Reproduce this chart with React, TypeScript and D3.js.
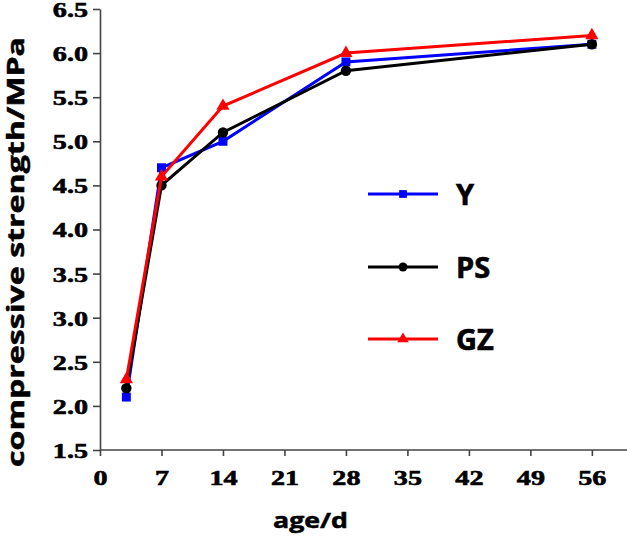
import { useRef, useEffect } from 'react';
import * as d3 from 'd3';

const ages = [3, 7, 14, 28, 56];
const seriesNames = ['Y', 'PS', 'GZ'];
const valuesY = [2.1, 4.7, 5.0, 5.9, 6.1];
const valuesPS = [2.2, 4.5, 5.1, 5.8, 6.1];
const valuesGZ = [2.3, 4.6, 5.4, 6.0, 6.2];
const xTicks = [0, 7, 14, 21, 28, 35, 42, 49, 56];
const yTicks = [1.5, 2.0, 2.5, 3.0, 3.5, 4.0, 4.5, 5.0, 5.5, 6.0, 6.5];

const colors = ['#0000ff', '#000000', '#ff0000'];
const symbols = [d3.symbolSquare, d3.symbolCircle, d3.symbolTriangle];
const symbolSizes = [80, 85, 75];

const serif = 'Liberation Serif, Times New Roman, DejaVu Serif, serif';
const sans = 'Open Sans, DejaVu Sans, sans-serif';

export default function App() {
    const ref = useRef<SVGSVGElement>(null);

    useEffect(() => {
        if (!ref.current) return;
        const svg = d3.select(ref.current);
        svg.selectAll('*').remove();

        const width = 627;
        const height = 538;
        const margin = { top: 9, right: 0, bottom: 88, left: 100 };

        const x = d3.scaleLinear().domain([0, 60]).range([margin.left, width - margin.right]);
        const y = d3.scaleLinear().domain([1.5, 6.5]).range([height - margin.bottom, margin.top]);

        const stretch = 1.28;
        const axisColor = '#444';

        // x axis
        const gx = svg.append('g')
            .attr('transform', `translate(0, ${y(1.5)})`)
            .call(d3.axisBottom(x).tickValues(xTicks).tickSize(6).tickSizeOuter(0).tickFormat(d3.format('d')));
        gx.select('.domain').attr('stroke', axisColor).attr('stroke-width', 1.6).attr('d', `M${x(0)},0H${width}`);
        gx.selectAll('.tick line').attr('stroke', axisColor).attr('stroke-width', 1.6);
        gx.selectAll('.tick text')
            .attr('y', 35).attr('dy', 0)
            .attr('transform', `scale(${stretch},1)`)
            .style('font-family', serif)
            .style('font-weight', '700')
            .style('font-size', '22px')
            .attr('stroke', '#000').attr('stroke-width', 0.6)
            .attr('fill', '#000');

        // y axis
        const gy = svg.append('g')
            .attr('transform', `translate(${x(0)}, 0)`)
            .call(d3.axisLeft(y).tickValues(yTicks).tickSize(7).tickSizeOuter(0).tickFormat(d3.format('.1f')));
        gy.select('.domain').attr('stroke', axisColor).attr('stroke-width', 1.6);
        gy.selectAll('.tick line').attr('stroke', axisColor).attr('stroke-width', 1.6);
        gy.selectAll('.tick text')
            .attr('x', -12 / stretch).attr('dy', '0.34em')
            .attr('transform', `scale(${stretch},1)`)
            .style('font-family', serif)
            .style('font-weight', '700')
            .style('font-size', '22px')
            .attr('stroke', '#000').attr('stroke-width', 0.6)
            .attr('fill', '#000');

        // series
        const allValues = [valuesY, valuesPS, valuesGZ];
        const line = d3.line<number>().x((_, i) => x(ages[i])).y(d => y(d));

        allValues.forEach((vals, si) => {
            svg.append('path')
                .datum(vals)
                .attr('d', line)
                .attr('fill', 'none')
                .attr('stroke', colors[si])
                .attr('stroke-width', 3);
            svg.selectAll(`.pt${si}`)
                .data(vals)
                .join('path')
                .attr('class', `pt${si}`)
                .attr('transform', (d, i) => `translate(${x(ages[i])}, ${y(d)})`)
                .attr('d', d3.symbol().type(symbols[si]).size(symbolSizes[si])())
                .attr('fill', colors[si]);
        });

        // legend
        const legendY = [194, 267, 339];
        seriesNames.forEach((name, si) => {
            const g = svg.append('g').attr('transform', `translate(368, ${legendY[si]})`);
            g.append('line')
                .attr('x1', 0).attr('x2', 70)
                .attr('stroke', colors[si]).attr('stroke-width', 3);
            g.append('path')
                .attr('transform', 'translate(35, 0)')
                .attr('d', d3.symbol().type(symbols[si]).size(symbolSizes[si] * 0.75)())
                .attr('fill', colors[si]);
            g.append('text')
                .attr('x', 88).attr('y', 11)
                .style('font-family', sans)
                .style('font-weight', '700')
                .style('font-size', '29px')
                .attr('stroke', '#000').attr('stroke-width', 0.6)
                .attr('fill', '#000')
                .text(name);
        });

        // axis titles
        svg.append('text')
            .attr('x', 310.5).attr('y', 528)
            .attr('text-anchor', 'middle')
            .attr('textLength', 75)
            .attr('lengthAdjust', 'spacingAndGlyphs')
            .style('font-family', sans)
            .style('font-weight', '700')
            .style('font-size', '22px')
            .attr('stroke', '#000').attr('stroke-width', 0.5)
            .attr('fill', '#000')
            .text('age/d');

        svg.append('text')
            .attr('transform', 'translate(24, 252) rotate(-90)')
            .attr('text-anchor', 'middle')
            .attr('textLength', 430)
            .attr('lengthAdjust', 'spacingAndGlyphs')
            .style('font-family', sans)
            .style('font-weight', '700')
            .style('font-size', '23px')
            .attr('stroke', '#000').attr('stroke-width', 0.5)
            .attr('fill', '#000')
            .text('compressive strength/MPa');
    }, []);

    return (
        <svg ref={ref} width={627} height={538}
            style={{ position: 'absolute', left: 0, top: 0, background: '#fff' }} />
    );
}
